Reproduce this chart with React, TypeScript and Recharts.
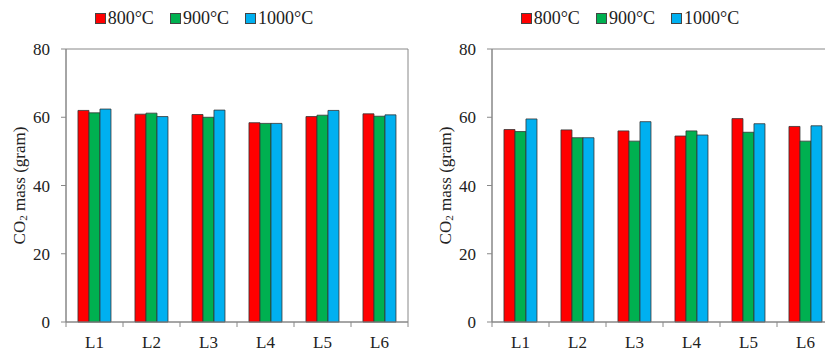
import { BarChart, Bar, XAxis, YAxis, ReferenceArea } from 'recharts'

const CATEGORIES = ['L1', 'L2', 'L3', 'L4', 'L5', 'L6']
const SERIES = ['800°C', '900°C', '1000°C']
const COLORS = ['#FF0000', '#00B050', '#00B0F0']
const Y_TICKS = [0, 20, 40, 60, 80]

const left800 = [62.0, 60.9, 60.8, 58.4, 60.2, 61.0]
const left900 = [61.3, 61.2, 60.0, 58.2, 60.6, 60.3]
const left1000 = [62.4, 60.2, 62.1, 58.2, 62.0, 60.7]

const right800 = [56.4, 56.3, 56.0, 54.5, 59.6, 57.3]
const right900 = [55.8, 54.0, 53.0, 56.0, 55.6, 53.0]
const right1000 = [59.5, 54.0, 58.7, 54.8, 58.1, 57.5]

const FONT = "'Liberation Serif', 'Times New Roman', Tinos, 'DejaVu Serif', serif"
const AXIS = '#888'
const TEXT = '#222'

const W = 412
const H = 353
const MARGIN = { top: 49, right: 4, bottom: 6, left: 0 }
const Y_WIDTH = 66
const X_HEIGHT = 25
const BAND = (W - MARGIN.left - MARGIN.right - Y_WIDTH) / CATEGORIES.length
const TICK_SIZE = 5
const TICK_MARGIN = 9

function buildRows(a: number[], b: number[], c: number[]) {
  return CATEGORIES.map((cat, i) => ({ cat, s0: a[i], s1: b[i], s2: c[i] }))
}

function XTick(props: any) {
  const { x, y, payload, index } = props
  const axisY = y - TICK_SIZE - TICK_MARGIN
  const last = index === CATEGORIES.length - 1
  return (
    <g>
      <line x1={x - BAND / 2} x2={x - BAND / 2} y1={axisY} y2={axisY + TICK_SIZE} stroke={AXIS} />
      {last && (
        <line x1={x + BAND / 2} x2={x + BAND / 2} y1={axisY} y2={axisY + TICK_SIZE} stroke={AXIS} />
      )}
      <text x={x} y={y} dy="0.71em" textAnchor="middle" fill={TEXT} fontSize={17} style={{ fontFamily: FONT }}>
        {payload.value}
      </text>
    </g>
  )
}

function YLabel(props: any) {
  const { viewBox } = props
  const cx = 19
  const cy = viewBox.y + viewBox.height / 2
  return (
    <text
      x={cx}
      y={cy}
      transform={`rotate(-90, ${cx}, ${cy})`}
      textAnchor="middle"
      dominantBaseline="central"
      fill={TEXT}
      fontSize={17}
      style={{ fontFamily: FONT }}
    >
      <tspan>CO</tspan>
      <tspan fontSize={11} dy={4}>2</tspan>
      <tspan dy={-4}> mass (gram)</tspan>
    </text>
  )
}

function LegendRow() {
  return (
    <div
      style={{
        position: 'absolute',
        top: 8,
        left: 0,
        width: W,
        display: 'flex',
        justifyContent: 'center',
        gap: 16,
        fontFamily: FONT,
        fontSize: 18,
        color: TEXT,
        lineHeight: '20px',
        transform: 'translateX(-2px)',
      }}
    >
      {SERIES.map((s, i) => (
        <div key={s} style={{ display: 'flex', alignItems: 'center' }}>
          <span
            style={{
              display: 'inline-block',
              width: 9,
              height: 9,
              background: COLORS[i],
              border: '1px solid #444',
              marginRight: 2,
            }}
          />
          <span>{s}</span>
        </div>
      ))}
    </div>
  )
}

function Panel({ rows, left }: { rows: any[]; left: number }) {
  return (
    <div style={{ position: 'absolute', left, top: 0, width: W, height: H }}>
      <LegendRow />
      <BarChart
        width={W}
        height={H}
        data={rows}
        margin={MARGIN}
        barGap={0}
        barCategoryGap="21%"
      >
        <ReferenceArea y1={0} y2={80} fill="none" stroke={AXIS} strokeWidth={1} ifOverflow="visible" />
        <XAxis
          dataKey="cat"
          height={X_HEIGHT}
          axisLine={{ stroke: AXIS }}
          tickLine={false}
          tickSize={TICK_SIZE}
          tickMargin={TICK_MARGIN}
          tick={<XTick />}
          interval={0}
        />
        <YAxis
          width={Y_WIDTH}
          domain={[0, 80]}
          ticks={Y_TICKS}
          interval={0}
          axisLine={{ stroke: AXIS }}
          tickLine={{ stroke: AXIS }}
          tickSize={TICK_SIZE}
          tickMargin={11}
          tick={{ fill: TEXT, fontSize: 17, style: { fontFamily: FONT } }}
          label={<YLabel />}
        />
        {SERIES.map((s, i) => (
          <Bar
            key={s}
            dataKey={`s${i}`}
            name={s}
            fill={COLORS[i]}
            stroke="#333"
            strokeWidth={0.8}
            isAnimationActive={false}
          />
        ))}
      </BarChart>
    </div>
  )
}

export default function App() {
  return (
    <div
      style={{
        position: 'fixed',
        left: 0,
        top: 0,
        width: 825,
        height: 353,
        overflow: 'hidden',
        background: '#fff',
      }}
    >
      <Panel rows={buildRows(left800, left900, left1000)} left={0} />
      <Panel rows={buildRows(right800, right900, right1000)} left={426} />
    </div>
  )
}
